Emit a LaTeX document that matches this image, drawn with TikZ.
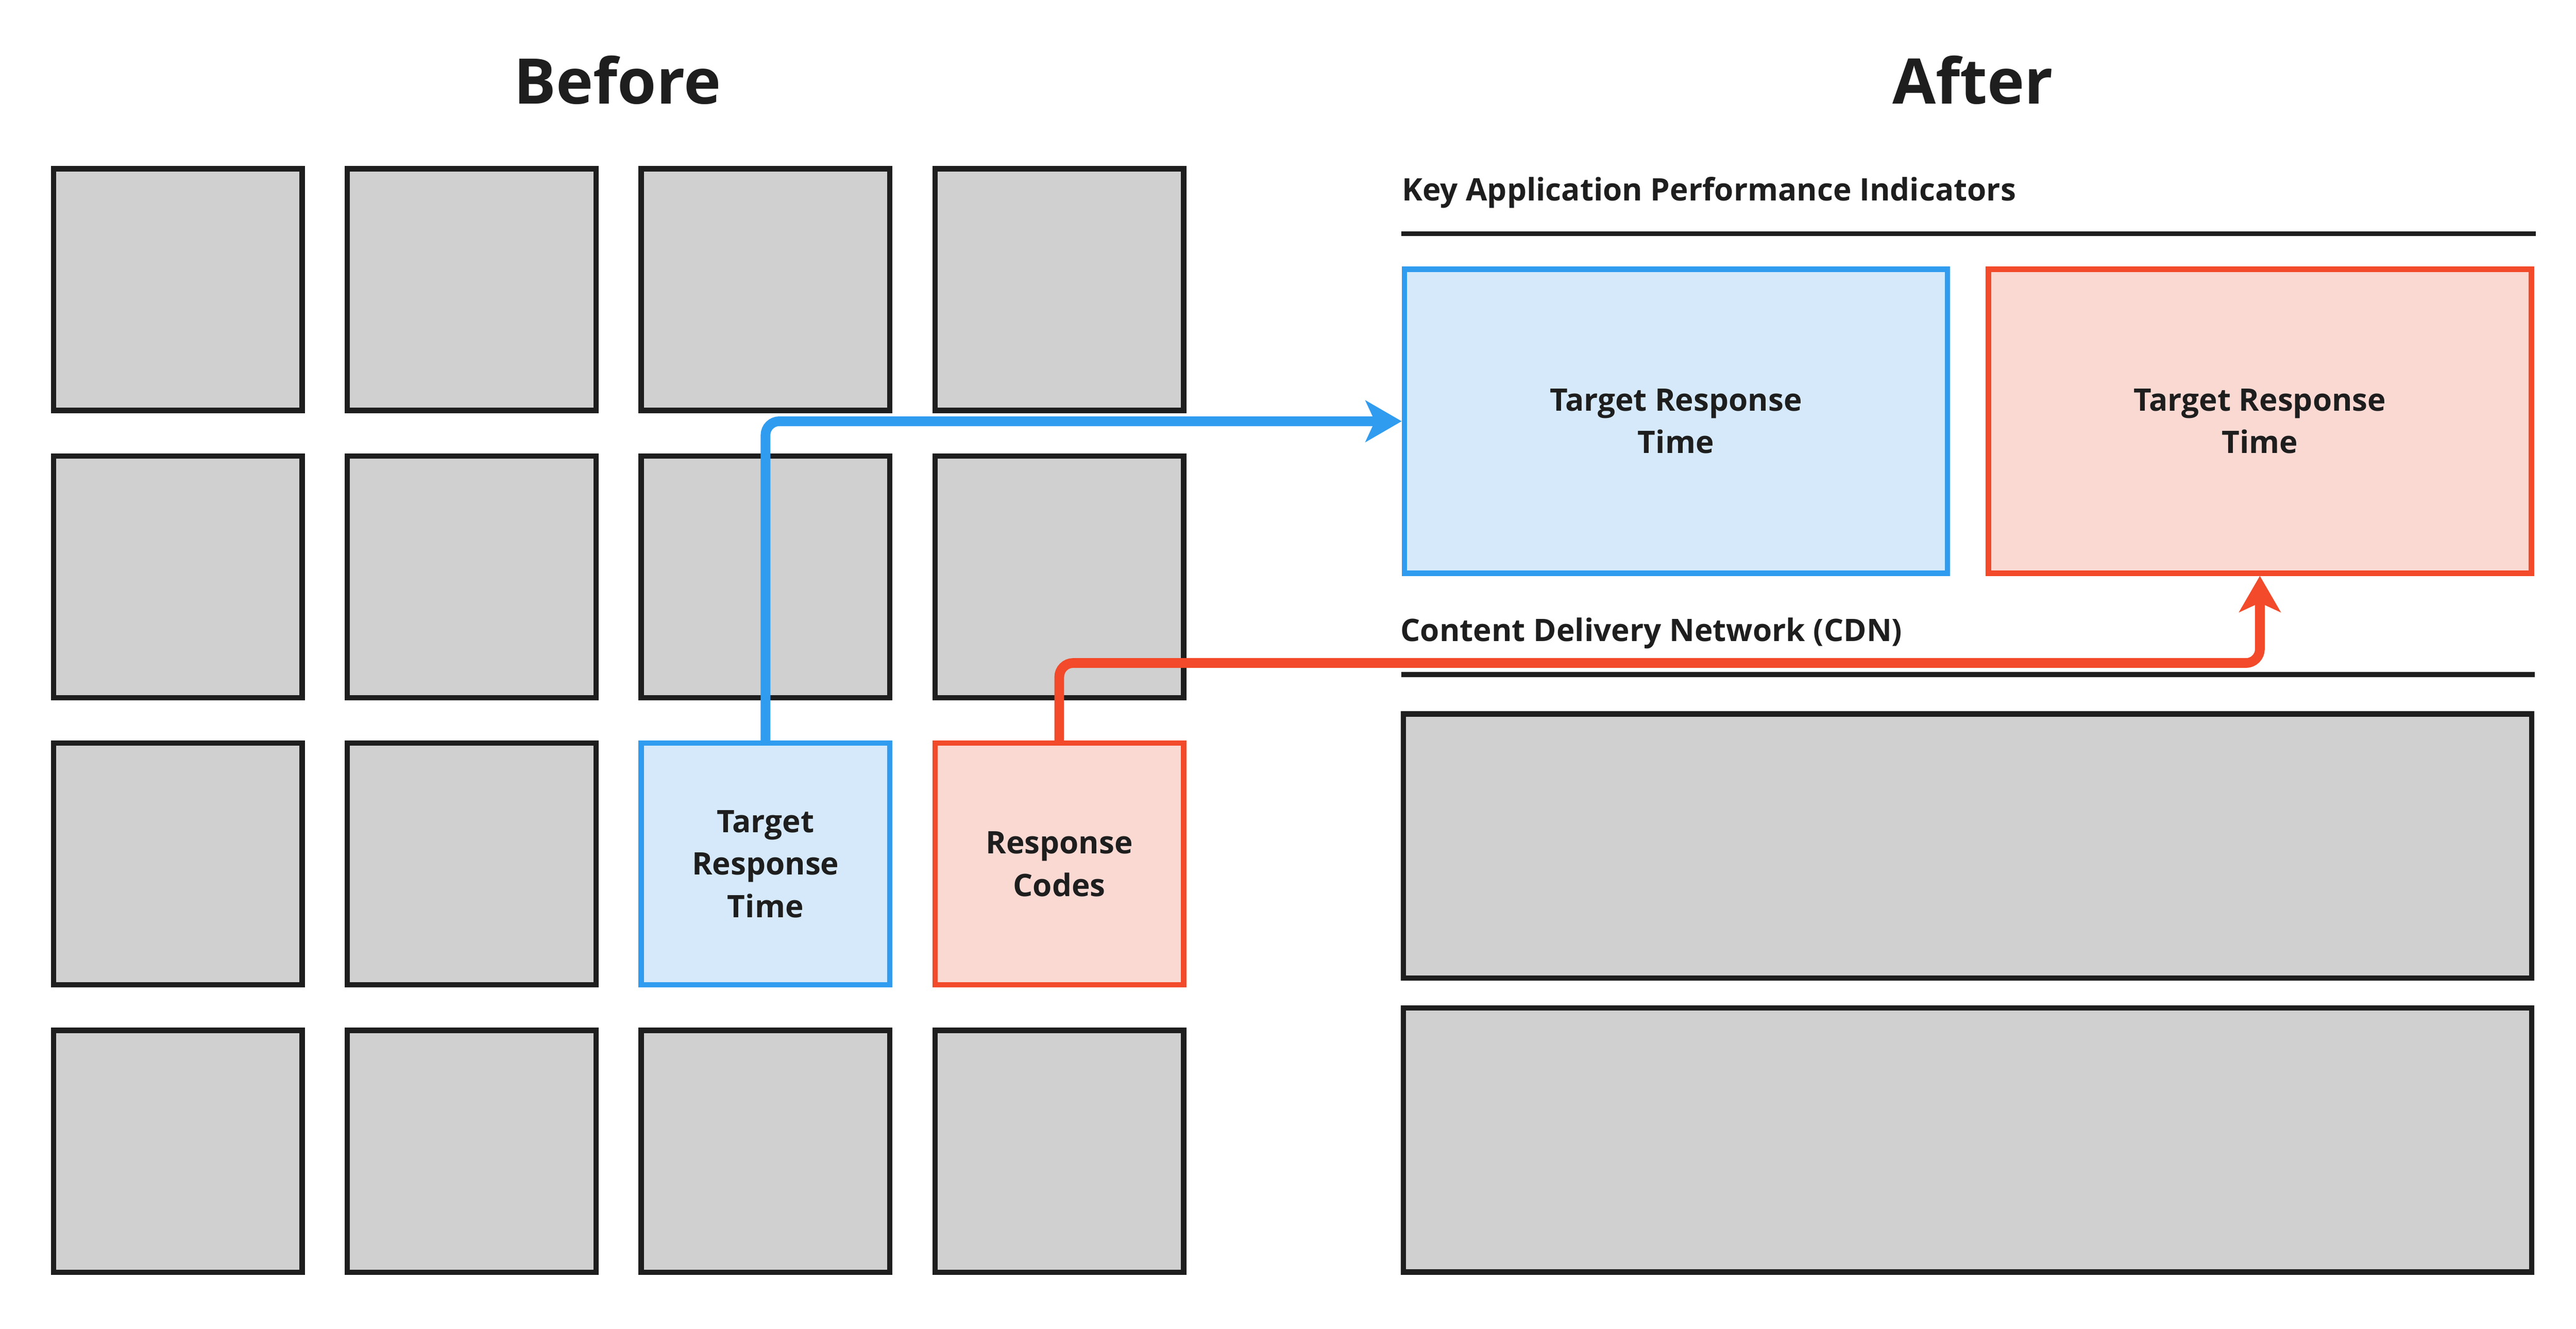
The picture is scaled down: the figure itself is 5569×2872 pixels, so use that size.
\documentclass[tikz,border=0pt]{standalone}
\usepackage{fontspec}
\setmainfont{Open Sans}
\usepackage{tikz}
\usetikzlibrary{arrows.meta, positioning}
\definecolor{inkdark}{HTML}{1E1E1E}
\definecolor{tilegray}{HTML}{D0D0D0}
\definecolor{trtblue}{HTML}{309CF0}
\definecolor{trtfill}{HTML}{D5E9FA}
\definecolor{codered}{HTML}{F24A2A}
\definecolor{codefill}{HTML}{FAD9D3}

\begin{document}
\begin{tikzpicture}[
        x=0.1pt, y=-0.1pt,
        tile/.style={draw=inkdark, fill=tilegray, line width=1.15pt,
            minimum width=53.75pt, minimum height=52.25pt, inner sep=0pt,
            align=center, text=inkdark,
            font=\fontsize{6.7}{9.2}\selectfont\bfseries},
        kpi/.style={tile, minimum width=117.4pt, minimum height=65.7pt},
        wide/.style={tile, minimum width=243.95pt, minimum height=57.1pt},
        bluebox/.style={draw=trtblue, fill=trtfill},
        redbox/.style={draw=codered, fill=codefill},
        title/.style={anchor=base, inner sep=0pt, text=inkdark,
            font=\fontsize{13.6}{16}\selectfont\bfseries},
        head/.style={anchor=base west, inner sep=0pt, text=inkdark,
            font=\fontsize{6.7}{9}\selectfont\bfseries},
        rule/.style={draw=inkdark, line width=1.05pt},
        link/.style={line width=2.1pt, rounded corners=3pt,
            -{Stealth[length=7.8pt, width=8.9pt, inset=2pt]}}
    ]
        \useasboundingbox (0,0) rectangle (5569,2872);
        \node[title] (before) at (1335,224) {Before};
        \node[title] (after) at (4265,224) {After};
        \foreach \c in {1,...,4}
            \foreach \r in {1,...,4} {
                \pgfmathtruncatemacro{\hole}{(\r==3)&&(\c>2)}
                \ifnum\hole=0
                    \node[tile] (t\c\r) at ({384.5+635.2*(\c-1)}, {626+620.8*(\r-1)}) {};
                \fi
            }
        \node[tile, bluebox] (trt) at (1654.9,1867.6) {Target\\Response\\Time};
        \node[tile, redbox] (codes) at (2290,1867.6) {Response\\Codes};
        \node[head] (kpihead) at (3029,434) {Key Application Performance Indicators};
        \draw[rule] (3029,505) -- (5482,505);
        \node[kpi, bluebox] (kpiA) at (3623,910.5) {Target Response\\Time};
        \node[kpi, redbox] (kpiB) at (4885.5,910.5) {Target Response\\Time};
        \node[head] (cdnhead) at (3026,1386) {Content Delivery Network (CDN)};
        \draw[rule] (3029,1458) -- (5480,1458);
        \node[wide] (cdnA) at (4253.5,1828.5) {};
        \node[wide] (cdnB) at (4253.5,2464) {};
        \coordinate (cdnrun) at (0,1433);
        \draw[link, trtblue] (trt.north) |- (kpiA.west);
        \draw[link, codered] (codes.north) |- (kpiB.south |- cdnrun) -- (kpiB.south);
    \end{tikzpicture}
\end{document}
